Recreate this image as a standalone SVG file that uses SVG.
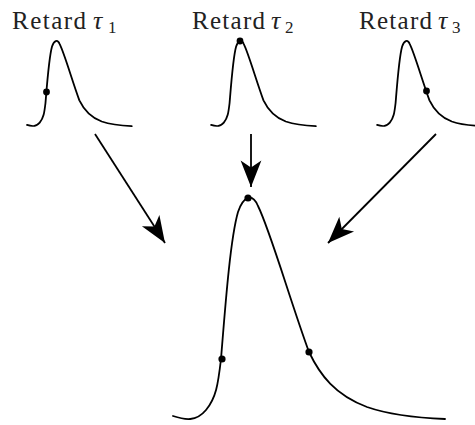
<svg xmlns="http://www.w3.org/2000/svg" xmlns:xlink="http://www.w3.org/1999/xlink" width="475" height="425" viewBox="0 0 475 425">
<style>
.curve{fill:none;stroke:#000;stroke-width:1.8;stroke-linecap:round;stroke-linejoin:round}
.lbl{font-family:"Liberation Serif","DejaVu Serif",serif;font-size:25px;fill:#222}
.tau{font-style:italic;font-size:26px}
.sub{font-size:17px}
.arrow{fill:none;stroke:#000;stroke-width:1.8}
.dot{fill:#000}
</style>
<defs>
<path id="pulse" d="M173,416 C185,420 196,422 206,410 C216,398 218,385 221,359 C225,310 230,240 238,212 C243,197 252,192 258,206 C270,230 290,300 309,352 C320,375 335,395 367,407 C390,415 420,418 445,419" vector-effect="non-scaling-stroke"/>
<marker id="head" markerUnits="userSpaceOnUse" markerWidth="30" markerHeight="30" viewBox="-24 -12 26 24" refX="0" refY="0" orient="auto" overflow="visible">
<path d="M0,0 L-23,-9 L-17,0 L-23,9 Z" fill="#000"/>
</marker>
</defs>
<rect width="475" height="425" fill="#fff"/>
<g id="signal1">
<use href="#pulse" class="curve" transform="translate(-39.6,-35.2) scale(0.385)"/>
<circle class="dot" cx="46.5" cy="92" r="3.4"/>
<text class="lbl" x="12" y="29"><tspan textLength="74" lengthAdjust="spacing">Retard</tspan></text>
<text class="lbl tau" x="93" y="29">τ</text>
<text class="lbl sub" x="108" y="33">1</text>
</g>
<g id="signal2">
<use href="#pulse" class="curve" transform="translate(144.5,-35.2) scale(0.385)"/>
<circle class="dot" cx="240" cy="41" r="3.4"/>
<text class="lbl" x="192" y="29"><tspan textLength="73" lengthAdjust="spacing">Retard</tspan></text>
<text class="lbl tau" x="271" y="29">τ</text>
<text class="lbl sub" x="285" y="33">2</text>
</g>
<g id="signal3">
<use href="#pulse" class="curve" transform="translate(310.5,-35.2) scale(0.385)"/>
<circle class="dot" cx="426.5" cy="91" r="3.4"/>
<text class="lbl" x="359" y="29"><tspan textLength="73" lengthAdjust="spacing">Retard</tspan></text>
<text class="lbl tau" x="438" y="29">τ</text>
<text class="lbl sub" x="452" y="33">3</text>
</g>
<g id="sum">
<use href="#pulse" class="curve"/>
<circle class="dot" cx="222" cy="359" r="3.6"/>
<circle class="dot" cx="248" cy="198" r="3.6"/>
<circle class="dot" cx="309" cy="352" r="3.6"/>
</g>
<g id="connectors">
<line class="arrow" x1="95" y1="134" x2="165" y2="243" marker-end="url(#head)"/>
<line class="arrow" x1="251" y1="134" x2="251" y2="187" marker-end="url(#head)"/>
<line class="arrow" x1="436" y1="134" x2="328" y2="243" marker-end="url(#head)"/>
</g>
</svg>
